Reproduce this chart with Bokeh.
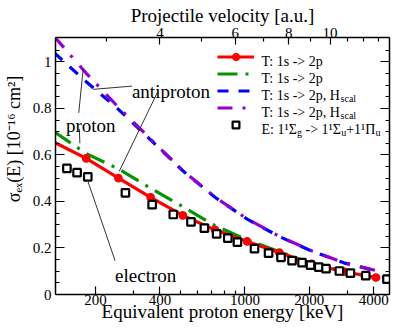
import math
from bokeh.plotting import figure
from bokeh.models import (Range1d, LogAxis, LinearAxis, FixedTicker, NumeralTickFormatter,
                          CustomJSTickFormatter, Label, Legend, LegendItem)
from bokeh.core.properties import value
from bokeh.embed import file_html
from bokeh.resources import INLINE

# ---------------- data ----------------
E_theory = [128, 181, 256, 362, 512, 724, 1024, 1448, 2048, 2896, 4096]
sigma_T_red = [0.655, 0.585, 0.500, 0.418, 0.340, 0.278, 0.228, 0.180, 0.132, 0.098, 0.073]
sigma_T_green = [0.700, 0.606, 0.540, 0.457, 0.378, 0.296, 0.235, 0.184, 0.134, 0.099, 0.071]
sigma_T_blue = [1.040, 0.915, 0.796, 0.665, 0.532, 0.418, 0.324, 0.249, 0.187, 0.136, 0.102]
sigma_T_purple = [1.110, 0.951, 0.805, 0.668, 0.533, 0.419, 0.325, 0.250, 0.188, 0.137, 0.103]

E_exp = [147, 164, 184, 276, 368, 462, 559, 646, 737, 831, 922, 1108, 1289, 1474,
         1660, 1849, 2025, 2213, 2394, 2763, 3111, 3670, 4612]
sigma_exp = [0.542, 0.524, 0.506, 0.437, 0.386, 0.344, 0.312, 0.285, 0.261, 0.242, 0.225,
             0.197, 0.178, 0.160, 0.146, 0.137, 0.126, 0.118, 0.111, 0.101, 0.092, 0.081, 0.066]

x_major_ticks = [200, 400, 1000, 2000, 4000]
x_minor_ticks = [300, 500, 600, 700, 800, 900, 3000]
velocity_major = [4, 6, 8, 10]
velocity_minor = [3, 5, 7, 9, 11, 12, 13]
y_major_ticks = [0, 0.2, 0.4, 0.6, 0.8, 1.0]
y_minor_ticks = [0.05, 0.1, 0.15, 0.25, 0.3, 0.35, 0.45, 0.5, 0.55, 0.65, 0.7, 0.75,
                 0.85, 0.9, 0.95, 1.05]

# ---------------- layout constants ----------------
FONT = "Liberation Serif"
W, H = 391, 325
FL, FT, FR, FB = 49, 37, 389, 294   # frame edges in canvas px
X_RANGE = (130, 4740)
Y_RANGE = (0, 1.105)

p = figure(width=W, height=H, x_axis_type="log",
           x_range=Range1d(*X_RANGE), y_range=Range1d(*Y_RANGE),
           output_backend="svg", toolbar_location=None,
           min_border_left=FL, min_border_top=FT,
           min_border_right=W - FR, min_border_bottom=H - FB)
p.grid.visible = False
p.outline_line_color = None
p.background_fill_color = "white"
p.border_fill_color = "white"


def style_axis(ax, major_in, minor_in):
    ax.axis_line_color = "black"
    ax.axis_line_width = 1.5
    ax.major_tick_in = major_in
    ax.major_tick_out = 0
    ax.minor_tick_in = minor_in
    ax.minor_tick_out = 0
    ax.major_tick_line_color = "black"
    ax.minor_tick_line_color = "black"
    ax.major_tick_line_width = 1.2
    ax.minor_tick_line_width = 1.2
    ax.major_label_text_font = FONT
    ax.major_label_text_font_size = "15px"
    ax.major_label_text_color = "black"
    ax.axis_label_text_font = FONT
    ax.axis_label_text_font_style = "normal"
    ax.axis_label_text_color = "black"


xb = p.xaxis[0]
xb.ticker = FixedTicker(ticks=x_major_ticks, minor_ticks=x_minor_ticks)
xb.formatter = NumeralTickFormatter(format="0")
xb.major_label_standoff = 0
style_axis(xb, 8, 4)
xb.axis_label = "Equivalent proton energy [keV]"
xb.axis_label_text_font_size = "19px"
xb.axis_label_standoff = -7

yl = p.yaxis[0]
yl.ticker = FixedTicker(ticks=y_major_ticks, minor_ticks=y_minor_ticks)
yl.formatter = NumeralTickFormatter(format="0.[0]")
yl.major_label_standoff = 4
style_axis(yl, 9, 4)
yl.axis_label = "\u00a0" * 12 + "σₑₓ(E) [10⁻¹⁶ cm²]"
yl.axis_label_text_font_size = "18px"
yl.axis_label_standoff = 6

xt = LogAxis(ticker=FixedTicker(ticks=[25 * v * v for v in velocity_major],
                                minor_ticks=[25 * v * v for v in velocity_minor]),
             formatter=CustomJSTickFormatter(code="return Math.round(Math.sqrt(tick/25)).toString();"))
style_axis(xt, 7, 4)
xt.major_label_standoff = 0
xt.axis_label = "Projectile velocity [a.u.]"
xt.axis_label_text_font_size = "19px"
xt.axis_label_standoff = -1
p.add_layout(xt, "above")

yr = LinearAxis(ticker=FixedTicker(ticks=y_major_ticks, minor_ticks=y_minor_ticks),
                formatter=CustomJSTickFormatter(code="return '';"))
style_axis(yr, 9, 4)
yr.major_label_text_font_size = "0px"
yr.major_label_standoff = 0
p.add_layout(yr, "right")

# ---------------- curves ----------------
r_blue = p.line(E_theory, sigma_T_blue, line_color="#0000ff", line_width=3.2, line_dash="11 10")
r_purple = p.line(E_theory, sigma_T_purple, line_color="#9400d3", line_width=3.2, line_dash="15 10 3 11")
r_green = p.line(E_theory, sigma_T_green, line_color="#009600", line_width=3.2, line_dash="20 8 3 8")
r_red = p.line(E_theory, sigma_T_red, line_color="#ff0000", line_width=3.2)
r_red_pts = p.scatter(E_theory[1:], sigma_T_red[1:], marker="circle", size=7.5,
                      line_color="#ff0000", fill_color="#ff0000", line_width=1.2)
r_exp = p.scatter(E_exp, sigma_exp, marker="square", size=7.5, line_color="black",
                  fill_color="white", line_width=2.2)

# ---------------- annotations (pointers + words) ----------------
ptr_x0 = [195, 390, 175, 168, 183]
ptr_y0 = [0.882, 0.870, 0.967, 0.712, 0.495]
ptr_x1 = [296, 258, 167, 169, 247]
ptr_y1 = [0.896, 0.529, 0.781, 0.650, 0.145]
p.segment(x0=ptr_x0, y0=ptr_y0, x1=ptr_x1, y1=ptr_y1, line_color="#333333", line_width=1)

for txt, ex, sy in [("antiproton", 296, 0.872), ("proton", 145.4, 0.725), ("electron", 247, 0.081)]:
    p.add_layout(Label(x=ex, y=sy, text=txt, text_font=FONT, text_font_size="19px",
                       text_color="black", text_baseline="alphabetic", text_align="left"))


def place(text, px, py, size, **kw):
    """place text at canvas pixel position (px, py) (alphabetic baseline)"""
    opts = dict(text_font=FONT, text_font_size=f"{size}px", text_color="black",
                text_baseline="alphabetic", text_align="left")
    opts.update(kw)
    lab = Label(x=X_RANGE[0], y=Y_RANGE[1], x_offset=px - FL, y_offset=FT - py, text=text, **opts)
    p.add_layout(lab)
    return lab


# ---------------- legend ----------------
legend = Legend(items=[LegendItem(label=value(" "), renderers=[r_red, r_red_pts]),
                       LegendItem(label=value(" "), renderers=[r_green]),
                       LegendItem(label=value(" "), renderers=[r_blue]),
                       LegendItem(label=value(" "), renderers=[r_purple]),
                       LegendItem(label=value(" "), renderers=[r_exp])],
                location=(162, (FB - FT) - 10.5 - 85), orientation="vertical",
                glyph_width=37, glyph_height=17, label_width=0, label_height=17,
                label_standoff=0, spacing=0, padding=0, margin=0,
                border_line_color=None, background_fill_alpha=0,
                label_text_font_size="1px")
p.add_layout(legend)

TW = {' ': .25, ':': .278, ',': .25, '-': .333, '>': .564, '+': .564, 'T': .611, 'E': .611,
      'H': .722, 's': .389, 'p': .5, 'c': .444, 'a': .444, 'l': .278, 'g': .5, 'u': .5,
      '¹': .3, 'Σ': .6, 'Π': .722}


def runs(items, px, py):
    x = px
    for t, size, dy in items:
        while t.startswith(" "):
            x += TW[' '] * size
            t = t[1:]
        place(t, x, py + dy, size)
        x += sum(TW.get(ch, .5) for ch in t) * size


LX = 255
runs([("T: 1s -> 2p", 14, 0)], LX, 60.5)
runs([("T: 1s -> 2p", 14, 0)], LX, 77.5)
runs([("T: 1s -> 2p, H", 14, 0), ("scal", 10, 3.5)], LX, 94.5)
runs([("T: 1s -> 2p, H", 14, 0), ("scal", 10, 3.5)], LX, 111.5)
runs([("E: 1¹Σ", 14, 0), ("g", 10, 3.5), (" -> 1¹Σ", 14, 0), ("u", 10, 3.5),
      ("+1¹Π", 14, 0), ("u", 10, 3.5)], LX, 128.5)

open("out.html", "w").write(file_html(p, INLINE))
